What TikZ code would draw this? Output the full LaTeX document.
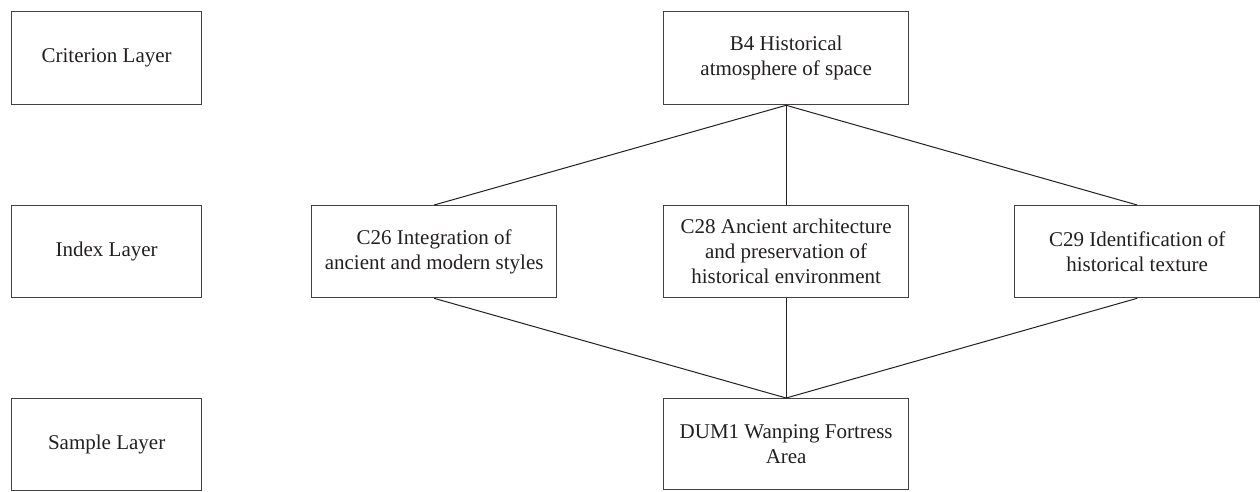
\documentclass[tikz,border=0pt]{standalone}
\usepackage{fontspec}
\setmainfont{Liberation Serif}
\definecolor{ink}{HTML}{231F20}
\begin{document}
\begin{tikzpicture}[x=1pt,y=-1pt,
  box/.style={draw=ink!85, line width=1.3pt, text=ink, align=center, inner sep=0pt,
    font=\fontsize{21}{25}\selectfont, anchor=north west},
  link/.style={draw=ink, line width=1pt}]
\useasboundingbox (0,0) rectangle (1260,491);
\node[box, minimum width=190, minimum height=93] (crit) at (11,11) {Criterion Layer};
\node[box, minimum width=190, minimum height=92] (idx) at (11,205) {Index Layer};
\node[box, minimum width=190, minimum height=92] (samp) at (11,398) {Sample Layer};
\node[box, minimum width=245, minimum height=93] (b4) at (663,11) {B4 Historical\\atmosphere of space};
\node[box, minimum width=245, minimum height=92] (c26) at (311,205) {C26 Integration of\\ancient and modern styles};
\node[box, minimum width=245, minimum height=92] (c28) at (663,205) {C28 Ancient architecture\\and preservation of\\historical environment};
\node[box, minimum width=245, minimum height=92] (c29) at (1014,205) {C29 Identification of\\historical texture};
\node[box, minimum width=245, minimum height=91] (dum) at (663,398) {DUM1 Wanping Fortress\\Area};
\draw[link] (b4.south) -- (c26.north);
\draw[link] (b4.south) -- (c28.north);
\draw[link] (b4.south) -- (c29.north);
\draw[link] (c26.south) -- (dum.north);
\draw[link] (c28.south) -- (dum.north);
\draw[link] (c29.south) -- (dum.north);
\end{tikzpicture}
\end{document}
